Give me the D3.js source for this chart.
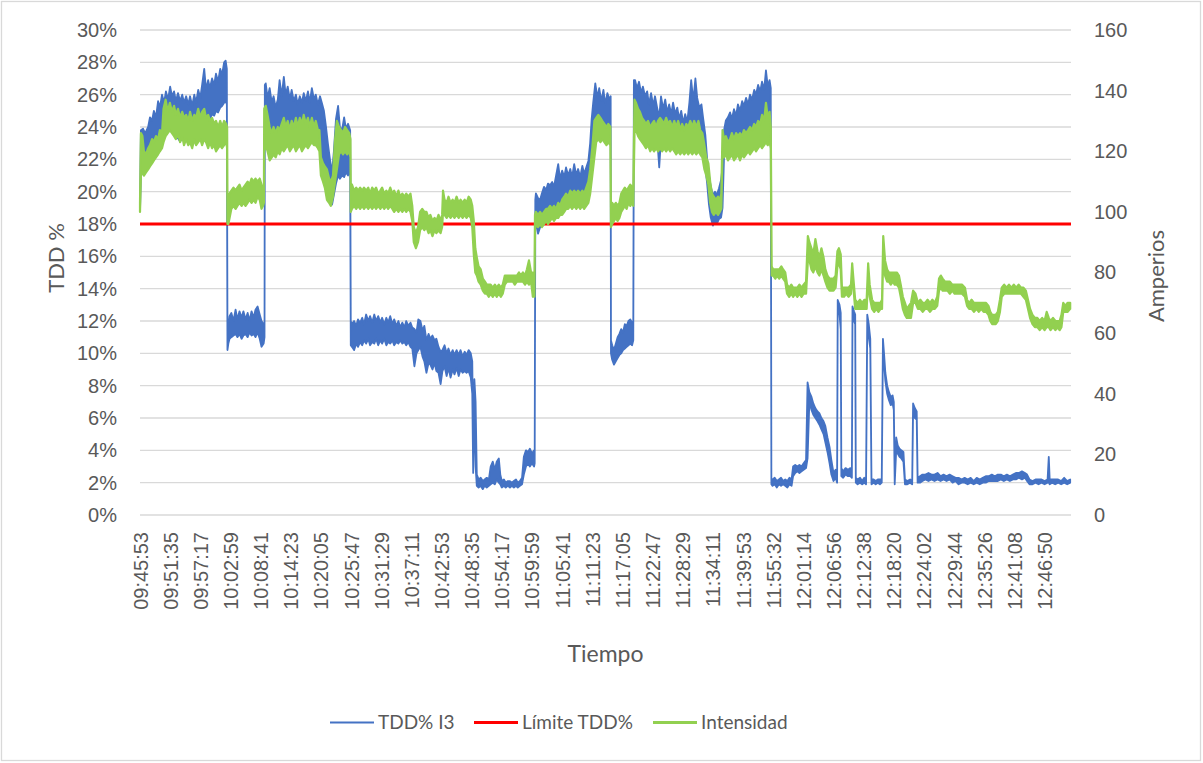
<!DOCTYPE html>
<html><head><meta charset="utf-8">
<script src="https://cdn.jsdelivr.net/npm/d3@7"></script>
<style>
body{margin:0;background:#fff}
svg{display:block;font-family:Lato,'Open Sans',sans-serif}
</style></head><body>
<svg id="chart" width="1203" height="763"></svg>
<script>
// ---- data ----
const timeLabels = ["09:45:53","09:51:35","09:57:17","10:02:59","10:08:41","10:14:23","10:20:05","10:25:47","10:31:29","10:37:11","10:42:53","10:48:35","10:54:17","10:59:59","11:05:41","11:11:23","11:17:05","11:22:47","11:28:29","11:34:11","11:39:53","11:55:32","12:01:14","12:06:56","12:12:38","12:18:20","12:24:02","12:29:44","12:35:26","12:41:08","12:46:50"];
const seriesNames = ["TDD% I3","Límite TDD%","Intensidad"];
const leftTicks = [0,2,4,6,8,10,12,14,16,18,20,22,24,26,28,30];
const rightTicks = [0,20,40,60,80,100,120,140,160];
const xEnd = 30.877; // samples span, in label-interval units

// TDD% I3 : [position (label intervals), low %, high %]
const tddBand = [
[0.00,18.8,19.2],[0.03,21.0,23.8],[0.10,21.2,23.9],[0.17,21.5,23.6],[0.27,22.0,24.0],[0.33,22.3,24.6],[0.40,22.5,24.4],[0.46,22.6,25.0],[0.53,22.8,24.6],[0.60,23.0,25.6],[0.66,23.3,25.2],[0.73,23.4,26.0],[0.80,23.5,25.5],[0.86,23.6,26.2],[0.93,23.8,25.7],[1.00,23.9,26.5],[1.06,23.7,25.9],[1.13,23.5,26.2],[1.19,23.4,25.6],[1.26,23.3,26.1],[1.33,23.1,25.6],[1.40,23.3,26.0],[1.46,23.6,25.5],[1.53,23.4,25.9],[1.60,23.7,25.4],[1.66,23.8,25.9],[1.73,23.6,25.3],[1.80,23.9,26.0],[1.86,23.7,25.5],[1.93,24.0,26.3],[2.00,24.1,25.8],[2.06,24.2,26.6],[2.13,24.4,27.6],[2.19,24.3,26.3],[2.26,24.6,26.9],[2.32,24.5,26.4],[2.39,24.8,27.0],[2.46,24.7,26.6],[2.52,25.0,27.3],[2.59,24.9,26.8],[2.66,25.2,27.6],[2.72,25.3,27.2],[2.79,25.5,28.0],[2.84,25.6,28.1],[2.88,25.4,27.6],
[2.90,10.2,11.8],[2.93,10.6,11.6],[2.97,10.9,12.3],[3.03,11.0,12.5],[3.10,11.1,12.0],[3.17,11.2,12.7],[3.23,11.0,12.1],[3.30,11.2,12.6],[3.37,10.9,12.2],[3.43,11.1,12.6],[3.50,11.2,12.1],[3.57,11.0,12.5],[3.63,11.3,12.0],[3.70,11.1,12.6],[3.77,11.2,12.2],[3.83,11.0,12.7],[3.90,11.3,12.9],[3.97,10.9,12.4],[4.03,10.4,12.0],[4.10,10.6,11.8],[4.13,11.0,11.6],
[4.14,24.8,26.6],[4.17,24.2,26.7],[4.23,23.6,25.8],[4.30,23.8,26.4],[4.37,23.9,25.5],[4.43,23.5,25.9],[4.50,23.8,25.2],[4.57,23.6,25.7],[4.63,23.9,26.9],[4.70,24.0,25.9],[4.77,23.8,27.1],[4.83,23.9,26.0],[4.90,24.1,26.5],[4.97,23.8,25.7],[5.03,23.9,26.3],[5.10,24.0,25.6],[5.17,23.7,26.0],[5.23,23.8,25.4],[5.30,23.6,25.9],[5.37,23.9,25.5],[5.43,23.7,26.1],[5.50,23.6,25.6],[5.57,23.9,26.2],[5.63,23.7,25.5],[5.70,23.8,26.4],[5.77,23.5,25.7],[5.83,23.7,26.0],[5.90,23.2,25.4],[5.97,22.5,25.9],[6.03,22.0,25.5],[6.10,21.0,25.0],[6.17,20.5,24.0],[6.23,20.0,23.0],[6.30,19.6,22.0],[6.37,19.2,21.2],[6.43,19.8,22.5],[6.50,20.5,24.5],[6.57,21.0,25.3],[6.63,20.8,24.0],[6.70,21.0,23.8],[6.77,20.9,24.6],[6.83,21.2,23.9],[6.90,21.0,24.2],[6.97,21.3,23.8],
[6.99,10.5,12.0],[7.03,10.4,11.8],[7.10,10.2,12.0],[7.17,10.6,11.7],[7.23,10.4,12.1],[7.30,10.7,11.9],[7.37,10.5,12.2],[7.43,10.8,11.8],[7.50,10.6,12.4],[7.57,10.9,12.0],[7.63,10.5,12.3],[7.70,10.7,11.9],[7.77,10.6,12.4],[7.83,10.9,12.0],[7.90,10.5,12.3],[7.97,10.8,11.9],[8.03,10.6,12.2],[8.10,10.9,11.8],[8.17,10.5,12.2],[8.23,10.7,11.9],[8.30,10.6,12.3],[8.37,10.8,11.8],[8.43,10.5,12.1],[8.50,10.7,11.7],[8.57,10.6,12.0],[8.63,10.8,11.6],[8.70,10.6,11.9],[8.77,10.7,11.6],[8.83,10.5,12.0],[8.90,10.7,11.7],[8.97,10.4,11.9],[9.03,10.3,11.6],[9.10,9.2,11.5],[9.17,10.0,11.3],[9.23,10.2,12.1],[9.30,10.4,12.0],[9.37,9.8,11.4],[9.43,9.5,11.7],[9.50,8.8,10.8],[9.57,9.4,11.2],[9.63,9.3,10.9],[9.70,9.0,11.1],[9.77,9.4,10.8],[9.83,8.9,10.9],[9.90,8.8,10.4],[9.97,8.1,10.1],[10.03,8.9,10.2],[10.10,9.2,10.5],[10.17,8.6,10.0],[10.23,9.1,10.3],[10.30,8.5,9.9],[10.37,9.0,10.2],[10.43,8.7,9.9],[10.50,9.1,10.2],[10.57,8.6,9.9],[10.63,9.0,10.2],[10.70,8.8,9.8],[10.77,8.9,10.1],[10.83,8.8,9.9],[10.90,8.9,10.2],[10.97,8.5,10.0],[11.02,7.5,9.5],[11.05,2.6,4.5],[11.09,7.0,8.4],[11.13,3.0,7.0],[11.17,1.8,2.5],
[11.23,1.7,2.2],[11.30,1.8,2.3],[11.37,1.6,2.1],[11.43,1.8,2.2],[11.50,1.7,2.3],[11.57,1.8,2.2],[11.63,1.9,3.0],[11.70,2.0,3.3],[11.77,1.9,2.8],[11.83,2.2,3.3],[11.90,2.0,3.5],[11.95,1.9,2.5],[12.00,1.7,2.1],[12.07,1.8,2.2],[12.13,1.7,2.0],[12.20,1.8,2.1],[12.27,1.7,2.1],[12.33,1.8,2.0],[12.40,1.7,2.1],[12.47,1.8,2.2],[12.53,1.7,2.0],[12.60,1.8,2.1],[12.67,1.9,2.3],[12.73,2.5,3.6],[12.80,3.0,4.0],[12.87,3.2,3.9],[12.93,3.0,4.1],[13.00,3.2,3.8],[13.07,3.0,4.0],[13.09,3.2,3.6],
[13.11,18.0,19.5],[13.13,18.2,19.9],[13.20,17.4,19.6],[13.27,17.8,19.5],[13.33,18.3,19.9],[13.40,18.5,20.3],[13.47,18.4,20.1],[13.53,18.6,20.5],[13.60,18.7,20.4],[13.67,18.8,20.6],[13.73,18.9,20.3],[13.80,19.0,21.0],[13.87,19.2,21.7],[13.93,19.3,20.8],[14.00,19.5,21.3],[14.07,19.6,20.9],[14.13,19.5,21.5],[14.20,19.7,21.0],[14.27,19.6,21.4],[14.33,19.8,20.9],[14.40,19.7,21.7],[14.47,19.6,21.0],[14.53,19.8,21.4],[14.60,19.5,20.9],[14.67,19.7,21.6],[14.73,19.6,21.1],[14.80,19.8,21.5],[14.87,20.0,21.9],[14.93,20.5,23.0],[14.98,21.5,24.5],[15.03,22.5,25.5],[15.10,23.5,26.7],[15.17,23.8,25.8],[15.23,24.0,26.4],[15.30,23.7,25.6],[15.37,23.9,26.3],[15.43,23.6,25.4],[15.50,23.8,26.1],[15.57,23.5,25.7],[15.61,23.6,25.9],
[15.62,10.0,10.8],[15.66,9.6,10.5],[15.72,9.3,10.2],[15.78,9.5,10.6],[15.84,9.7,11.0],[15.90,9.9,11.2],[15.96,10.0,11.5],[16.02,10.2,11.3],[16.08,10.3,11.8],[16.14,10.4,11.7],[16.20,10.5,12.0],[16.26,10.6,12.1],[16.32,10.5,11.9],[16.36,10.8,12.0],
[16.38,24.8,26.9],[16.42,24.6,26.9],[16.48,24.2,26.4],[16.55,24.4,26.8],[16.62,24.0,26.1],[16.68,24.3,26.5],[16.75,23.9,25.9],[16.82,24.1,26.2],[16.88,23.6,25.4],[16.95,23.8,26.1],[17.02,23.5,25.3],[17.08,23.7,25.9],[17.15,23.4,25.2],[17.22,21.5,24.6],[17.28,23.3,25.9],[17.35,23.0,25.1],[17.42,23.2,25.7],[17.48,22.8,24.9],[17.55,23.0,25.4],[17.62,23.1,24.8],[17.68,22.9,25.5],[17.75,23.2,24.8],[17.82,22.8,25.2],[17.88,22.9,24.5],[17.95,22.7,25.0],[18.02,22.9,24.2],[18.08,22.6,24.8],[18.15,22.8,24.3],[18.22,23.0,25.5],[18.28,23.2,26.9],[18.35,23.4,25.6],[18.42,23.2,27.0],[18.48,23.0,25.8],[18.55,22.8,25.2],[18.62,22.6,25.4],[18.68,22.3,24.5],[18.75,21.5,23.5],[18.81,20.5,22.0],[18.87,19.2,21.0],[18.93,18.4,20.3],[19.00,17.9,19.8],[19.07,18.2,20.0],[19.13,18.0,19.8],[19.20,18.3,20.2],[19.27,18.4,20.7],[19.32,19.0,21.5],[19.37,22.2,23.8],[19.43,22.5,24.4],[19.50,22.3,24.6],[19.57,22.4,24.9],[19.63,22.2,24.5],[19.70,22.5,25.1],[19.77,22.3,24.7],[19.83,22.4,25.4],[19.90,22.6,25.0],[19.97,22.4,25.6],[20.03,22.7,25.3],[20.10,22.5,25.8],[20.17,22.8,25.4],[20.23,22.6,26.0],[20.30,22.9,25.7],[20.37,22.7,26.3],[20.43,23.0,26.0],[20.50,22.9,26.6],[20.57,23.1,26.2],[20.63,23.0,26.8],[20.70,23.2,26.3],[20.76,23.4,27.5],[20.82,23.3,26.5],[20.88,23.6,26.9],[20.92,23.8,26.4],
[20.94,1.9,2.2],[20.98,1.8,2.2],[21.05,1.9,2.3],[21.12,1.7,2.1],[21.19,1.9,2.2],[21.26,1.8,2.3],[21.33,1.9,2.1],[21.40,1.8,2.2],[21.47,1.7,2.1],[21.54,1.9,2.3],[21.61,1.8,2.2],[21.66,2.4,3.0],[21.73,2.6,3.1],[21.80,2.7,3.0],[21.87,2.6,3.1],[21.94,2.7,3.0],[22.01,2.8,3.2],[22.09,2.9,3.4],[22.14,3.5,8.2],[22.20,7.0,7.6],[22.27,6.5,7.3],[22.33,6.2,6.9],[22.40,6.0,6.6],[22.47,5.8,6.4],[22.53,5.6,6.3],[22.60,5.3,6.0],[22.67,5.0,5.8],[22.73,4.5,5.5],[22.80,3.9,4.8],[22.87,3.2,4.2],[22.93,2.5,3.4],[23.00,2.1,2.6],[23.07,2.3,2.8],[23.12,2.0,2.6],[23.14,12.8,13.3],[23.20,12.4,13.0],[23.24,11.5,12.5],[23.26,2.4,2.9],[23.32,2.3,2.7],[23.40,2.5,2.9],[23.48,2.4,2.8],[23.56,2.4,2.9],[23.61,2.3,2.7],[23.63,12.3,12.9],[23.68,12.0,12.6],[23.72,11.8,12.4],[23.74,2.0,2.3],[23.80,1.9,2.2],[23.88,2.0,2.3],[23.95,1.9,2.1],[24.02,2.0,2.3],[24.08,1.9,2.2],[24.12,11.8,12.4],[24.17,11.0,11.8],[24.22,10.3,10.9],[24.26,1.9,2.2],[24.33,2.0,2.2],[24.40,1.9,2.1],[24.47,2.0,2.2],[24.54,1.9,2.2],[24.60,2.0,2.2],[24.64,10.4,10.9],[24.68,9.3,9.9],[24.72,8.3,8.8],[24.78,7.5,8.0],[24.84,7.1,7.6],[24.90,6.8,7.3],[24.96,6.9,7.4],[25.00,6.5,7.0],[25.03,1.9,2.2],[25.08,4.0,4.8],[25.13,3.8,4.3],[25.19,3.6,4.1],[25.25,3.5,4.0],[25.32,3.3,3.9],[25.37,1.9,2.2],[25.45,1.9,2.1],[25.54,2.0,2.2],[25.61,1.9,2.1],[25.64,6.4,6.9],[25.70,6.0,6.6],[25.76,5.9,6.4],[25.79,2.0,2.3],[25.87,2.0,2.4],[25.95,2.1,2.5],[26.05,2.2,2.5],[26.15,2.1,2.6],[26.25,2.2,2.5],[26.35,2.1,2.5],[26.45,2.2,2.6],[26.55,2.1,2.4],[26.65,2.2,2.5],[26.75,2.1,2.4],[26.85,2.2,2.5],[26.95,2.0,2.4],[27.05,2.1,2.3],[27.15,1.9,2.3],[27.25,2.0,2.2],[27.35,2.0,2.3],[27.45,1.9,2.2],[27.55,2.0,2.3],[27.65,1.9,2.1],[27.75,2.0,2.3],[27.85,1.9,2.2],[27.95,2.0,2.3],[28.05,2.0,2.4],[28.15,2.1,2.4],[28.25,2.1,2.5],[28.35,2.1,2.4],[28.45,2.1,2.5],[28.55,2.2,2.5],[28.65,2.1,2.4],[28.75,2.2,2.5],[28.85,2.1,2.4],[28.95,2.2,2.5],[29.05,2.2,2.6],[29.15,2.3,2.6],[29.25,2.2,2.7],[29.35,2.3,2.6],[29.42,2.1,2.5],[29.50,1.9,2.2],[29.60,1.9,2.1],[29.70,2.0,2.2],[29.80,1.9,2.2],[29.90,2.0,2.2],[30.00,1.9,2.1],[30.10,2.0,2.2],[30.14,2.0,3.6],[30.17,1.9,2.2],[30.25,2.0,2.2],[30.35,1.9,2.2],[30.45,2.0,2.2],[30.55,1.9,2.1],[30.65,2.0,2.3],[30.75,1.9,2.1],[30.85,2.0,2.2]
];

// Límite TDD% : [position, %]
const limitLine = [[0,18],[30.877,18]];

// Intensidad (A) : [position, low A, high A]
const ampBand = [
[0.00,100,103],[0.03,112,126],[0.08,113,125],[0.13,112,120],[0.20,113,119],[0.27,114,121],[0.33,115,122],[0.40,116,124],[0.46,117,123],[0.53,118,125],[0.60,119,124],[0.66,120,127],[0.73,121,126],[0.78,123,134],[0.85,125,137],[0.92,126,133],[0.99,127,136],[1.06,126,133],[1.13,125,135],[1.19,124,132],[1.26,126,134],[1.33,123,131],[1.40,125,133],[1.46,122,131],[1.53,124,132],[1.60,122,130],[1.66,123,133],[1.73,121,130],[1.80,124,132],[1.86,122,131],[1.93,123,134],[2.00,124,131],[2.06,122,133],[2.13,124,134],[2.19,123,131],[2.26,121,132],[2.32,123,130],[2.39,121,131],[2.46,122,129],[2.52,120,130],[2.59,121,128],[2.66,122,130],[2.72,121,128],[2.79,122,130],[2.86,123,129],[2.89,121,128],
[2.90,96,104],[2.93,96,100],[2.97,98,106],[3.03,101,107],[3.10,102,108],[3.17,101,107],[3.23,102,108],[3.30,103,109],[3.37,102,107],[3.43,103,108],[3.50,102,109],[3.57,103,110],[3.63,104,109],[3.70,103,111],[3.77,104,110],[3.83,103,111],[3.90,105,110],[3.97,104,111],[4.03,101,109],[4.08,102,107],[4.11,103,107],
[4.12,120,134],[4.17,122,135],[4.23,120,132],[4.30,117,128],[4.37,118,126],[4.43,119,128],[4.50,118,126],[4.57,120,128],[4.63,119,127],[4.70,121,129],[4.77,120,131],[4.83,121,128],[4.90,122,130],[4.97,120,127],[5.03,121,130],[5.10,122,128],[5.17,120,131],[5.23,121,128],[5.30,122,131],[5.37,120,129],[5.43,121,132],[5.50,122,129],[5.57,121,131],[5.63,122,128],[5.70,123,131],[5.77,122,128],[5.83,122,130],[5.90,121,127],[5.95,120,127],[6.00,112,118],[6.07,110,116],[6.13,108,115],[6.20,104,114],[6.27,103,111],[6.33,102,110],[6.40,105,112],[6.47,110,124],[6.53,114,130],[6.60,119,128],[6.67,120,127],[6.73,119,126],[6.80,120,128],[6.87,119,127],[6.94,120,126],[6.98,118,124],
[6.99,100,108],[7.03,101,109],[7.10,102,107],[7.17,101,108],[7.23,102,107],[7.30,101,108],[7.37,102,107],[7.43,101,108],[7.50,102,107],[7.57,101,108],[7.63,102,106],[7.70,101,108],[7.77,102,107],[7.83,101,108],[7.90,102,106],[7.97,101,107],[8.03,102,108],[8.10,101,106],[8.17,102,107],[8.23,101,106],[8.30,102,108],[8.37,101,106],[8.43,100,107],[8.50,101,105],[8.57,100,107],[8.63,101,105],[8.70,100,106],[8.77,101,105],[8.83,100,106],[8.90,101,105],[8.97,100,106],[9.03,97,102],[9.08,90,95],[9.15,88,93],[9.22,90,95],[9.29,94,100],[9.36,95,101],[9.43,94,100],[9.50,95,100],[9.57,93,98],[9.63,94,99],[9.70,92,97],[9.77,94,98],[9.83,93,97],[9.90,94,99],[9.97,93,97],[10.02,95,99],[10.05,100,107],[10.10,99,104],[10.17,98,103],[10.23,99,105],[10.30,98,103],[10.37,99,104],[10.43,98,103],[10.50,99,105],[10.57,98,103],[10.63,99,104],[10.70,98,103],[10.77,99,104],[10.83,98,103],[10.90,99,105],[10.97,98,104],[11.02,95,102],[11.07,86,97],[11.12,80,88],[11.17,79,85],[11.23,77,82],[11.30,76,81],[11.37,74,78],[11.44,73,77],[11.50,73,76],[11.57,72,76],[11.63,73,76],[11.70,72,75],[11.77,73,76],[11.83,72,75],[11.90,73,76],[11.97,72,75],[12.03,73,76],[12.10,76,79],[12.17,77,79],[12.23,77,79],[12.30,77,79],[12.37,77,79],[12.43,76,79],[12.50,77,79],[12.57,77,80],[12.63,77,79],[12.70,77,80],[12.77,76,79],[12.83,77,81],[12.90,76,84],[12.97,77,80],[13.03,72,80],[13.08,72,76],
[13.10,94,99],[13.13,96,100],[13.20,95,99],[13.27,96,100],[13.33,95,99],[13.40,96,100],[13.47,97,101],[13.53,96,101],[13.60,97,102],[13.67,98,101],[13.73,97,102],[13.80,98,101],[13.87,98,103],[13.93,99,102],[14.00,99,104],[14.07,100,105],[14.13,101,106],[14.20,101,105],[14.27,102,107],[14.33,101,106],[14.40,102,107],[14.47,101,106],[14.53,102,107],[14.60,101,106],[14.67,102,107],[14.73,101,106],[14.80,102,108],[14.87,103,110],[14.93,106,114],[15.00,112,121],[15.07,118,130],[15.13,123,131],[15.20,124,132],[15.27,123,131],[15.33,124,130],[15.40,123,129],[15.47,122,128],[15.53,123,129],[15.60,122,128],
[15.62,95,100],[15.66,96,103],[15.72,97,102],[15.78,98,103],[15.84,97,102],[15.90,98,103],[15.96,100,106],[16.02,101,107],[16.08,102,108],[16.14,101,107],[16.20,103,108],[16.26,102,109],[16.32,103,108],[16.36,102,108],
[16.40,126,137],[16.45,127,136],[16.52,125,134],[16.58,124,133],[16.65,123,131],[16.72,122,130],[16.78,121,129],[16.85,122,130],[16.92,120,128],[16.98,121,129],[17.05,120,130],[17.12,121,128],[17.18,120,130],[17.25,121,131],[17.32,120,130],[17.38,121,129],[17.45,120,131],[17.52,121,129],[17.58,120,130],[17.65,121,128],[17.72,120,130],[17.78,119,128],[17.85,120,130],[17.92,119,127],[17.98,120,129],[18.05,119,127],[18.12,120,129],[18.18,119,128],[18.25,120,130],[18.32,119,128],[18.38,120,130],[18.45,119,128],[18.52,120,130],[18.58,119,127],[18.65,118,126],[18.72,114,122],[18.78,112,118],[18.85,109,116],[18.91,103,110],[18.97,100,106],[19.03,99,105],[19.10,100,104],[19.17,99,105],[19.23,100,104],[19.28,101,106],
[19.32,120,127],[19.37,118,124],[19.43,119,125],[19.50,117,123],[19.57,118,124],[19.63,119,126],[19.70,117,124],[19.77,118,126],[19.83,119,125],[19.90,117,126],[19.97,119,125],[20.03,118,127],[20.10,119,126],[20.17,120,127],[20.23,119,128],[20.30,120,127],[20.37,121,129],[20.43,120,128],[20.50,121,130],[20.57,122,129],[20.63,121,132],[20.70,122,130],[20.76,123,136],[20.82,122,131],[20.88,123,133],[20.92,121,128],
[20.95,79,82],[21.00,79,81],[21.07,78,81],[21.13,79,81],[21.20,78,81],[21.27,79,82],[21.33,78,81],[21.40,77,80],[21.46,73,76],[21.53,72,75],[21.60,73,76],[21.66,72,75],[21.73,73,75],[21.80,72,75],[21.87,73,76],[21.94,72,75],[22.01,73,76],[22.09,73,77],[22.15,84,92],[22.20,84,90],[22.27,81,88],[22.33,80,86],[22.40,82,91],[22.47,80,87],[22.53,79,85],[22.60,81,88],[22.67,79,85],[22.73,77,81],[22.80,75,79],[22.87,74,78],[22.93,74,78],[23.00,74,78],[23.07,75,79],[23.13,82,87],[23.18,83,88],[23.24,81,86],[23.28,72,75],[23.35,72,75],[23.42,73,75],[23.50,72,75],[23.58,73,76],[23.62,80,83],[23.66,75,78],[23.72,68,71],[23.80,68,70],[23.88,68,71],[23.95,68,70],[24.02,68,71],[24.10,68,71],[24.15,79,83],[24.20,72,76],[24.28,68,71],[24.35,67,70],[24.42,68,70],[24.49,67,70],[24.56,68,70],[24.61,68,71],[24.65,86,92],[24.71,79,84],[24.78,77,81],[24.84,77,80],[24.90,76,80],[24.97,77,80],[25.03,76,80],[25.10,76,80],[25.17,75,79],[25.23,72,76],[25.30,68,72],[25.37,66,70],[25.43,65,68],[25.50,65,69],[25.57,65,70],[25.64,70,74],[25.72,70,73],[25.80,68,70],[25.88,68,71],[25.96,67,70],[26.04,68,70],[26.12,68,71],[26.20,67,70],[26.28,68,71],[26.36,68,70],[26.44,69,72],[26.50,74,78],[26.56,75,79],[26.62,74,78],[26.70,74,77],[26.78,74,77],[26.86,73,77],[26.94,74,76],[27.02,73,76],[27.10,73,76],[27.18,73,76],[27.26,73,76],[27.36,72,75],[27.43,69,71],[27.50,68,70],[27.58,68,71],[27.66,67,70],[27.74,68,70],[27.82,67,70],[27.90,68,70],[27.98,67,70],[28.06,67,70],[28.14,66,69],[28.20,64,67],[28.26,63,66],[28.32,63,66],[28.38,63,66],[28.45,64,67],[28.52,67,71],[28.58,72,75],[28.66,73,76],[28.74,73,75],[28.82,73,76],[28.90,73,75],[28.98,73,76],[29.06,73,75],[29.14,73,76],[29.22,73,75],[29.30,72,75],[29.38,71,74],[29.45,68,71],[29.52,65,68],[29.60,63,66],[29.68,62,65],[29.76,62,65],[29.84,61,64],[29.92,62,65],[30.00,61,64],[30.07,62,67],[30.14,62,65],[30.20,61,64],[30.28,62,65],[30.36,61,64],[30.44,62,64],[30.50,61,64],[30.56,62,66],[30.62,67,70],[30.68,67,69],[30.76,67,70],[30.85,68,70]
];

// ---- chart ----
const W = 1203, H = 763;
const M = {left:140, right:1071, top:30, bottom:515};
const colors = {tdd:"#4472C4", limit:"#FF0000", amp:"#92D050", text:"#595959", grid:"#D9D9D9"};
const svg = d3.select("#chart");

svg.append("rect").attr("x",1.5).attr("y",1.5).attr("width",W-4).attr("height",H-4)
  .attr("fill","#fff").attr("stroke",colors.grid).attr("stroke-width",1.3);

const x = d3.scaleLinear().domain([0, xEnd]).range([M.left, M.right]);
const yL = d3.scaleLinear().domain([0,30]).range([M.bottom, M.top]);
const yR = d3.scaleLinear().domain([0,160]).range([M.bottom, M.top]);

// gridlines
svg.append("g").selectAll("line").data(leftTicks).join("line")
  .attr("x1",M.left).attr("x2",M.right)
  .attr("y1",d=>yL(d)).attr("y2",d=>yL(d))
  .attr("stroke",colors.grid).attr("stroke-width",1.3);

// left axis
const gL = svg.append("g").attr("transform",`translate(${M.left},0)`)
  .call(d3.axisLeft(yL).tickValues(leftTicks).tickFormat(d=>d+"%").tickSize(0).tickPadding(23));
gL.select(".domain").remove();
gL.selectAll("text").attr("fill",colors.text).style("font-size","20px");

// right axis
const gR = svg.append("g").attr("transform",`translate(${M.right},0)`)
  .call(d3.axisRight(yR).tickValues(rightTicks).tickSize(0).tickPadding(23));
gR.select(".domain").remove();
gR.selectAll("text").attr("fill",colors.text).style("font-size","20px");

// bottom axis
const gB = svg.append("g").attr("transform",`translate(0,${M.bottom})`)
  .call(d3.axisBottom(x).tickValues(d3.range(timeLabels.length)).tickFormat(i=>timeLabels[i]).tickSize(0));
gB.select(".domain").remove();
gB.selectAll("text").attr("fill",colors.text).style("font-size","20px")
  .attr("transform","rotate(-90)").attr("text-anchor","end")
  .attr("x",-17).attr("y",0).attr("dy","0.35em");

// series
const areaL = d3.area().x(d=>x(d[0])).y0(d=>yL(d[1])).y1(d=>yL(d[2]));
const areaR = d3.area().x(d=>x(d[0])).y0(d=>yR(d[1])).y1(d=>yR(d[2]));
const lineL = d3.line().x(d=>x(d[0])).y(d=>yL(d[1]));

svg.append("path").datum(tddBand).attr("d",areaL)
  .attr("fill",colors.tdd).attr("stroke",colors.tdd).attr("stroke-width",1.8).attr("stroke-linejoin","round");
svg.append("path").datum(limitLine).attr("d",lineL)
  .attr("fill","none").attr("stroke",colors.limit).attr("stroke-width",3);
svg.append("path").datum(ampBand).attr("d",areaR)
  .attr("fill",colors.amp).attr("stroke",colors.amp).attr("stroke-width",2.2).attr("stroke-linejoin","round");

// axis titles
svg.append("text").attr("transform",`translate(56,258) rotate(-90)`)
  .attr("text-anchor","middle").attr("dy","0.35em").attr("fill",colors.text).style("font-size","22px").text("TDD %");
svg.append("text").attr("transform",`translate(1156,276) rotate(-90)`)
  .attr("text-anchor","middle").attr("dy","0.35em").attr("fill",colors.text).style("font-size","22px").text("Amperios");
svg.append("text").attr("x",(M.left+M.right)/2).attr("y",662)
  .attr("text-anchor","middle").attr("fill",colors.text).style("font-size","23px").text("Tiempo");

// legend
const legendItems = [
  {name:seriesNames[0], color:colors.tdd, x:330, w:2.2},
  {name:seriesNames[1], color:colors.limit, x:474, w:3},
  {name:seriesNames[2], color:colors.amp, x:653, w:3}
];
const lg = svg.append("g").selectAll("g").data(legendItems).join("g")
  .attr("transform",d=>`translate(${d.x},722.5)`);
lg.append("line").attr("x1",0).attr("x2",44).attr("stroke",d=>d.color).attr("stroke-width",d=>d.w);
lg.append("text").attr("x",48).attr("dy","0.35em").attr("fill",colors.text).style("font-size","19px").text(d=>d.name);
</script>
</body></html>
